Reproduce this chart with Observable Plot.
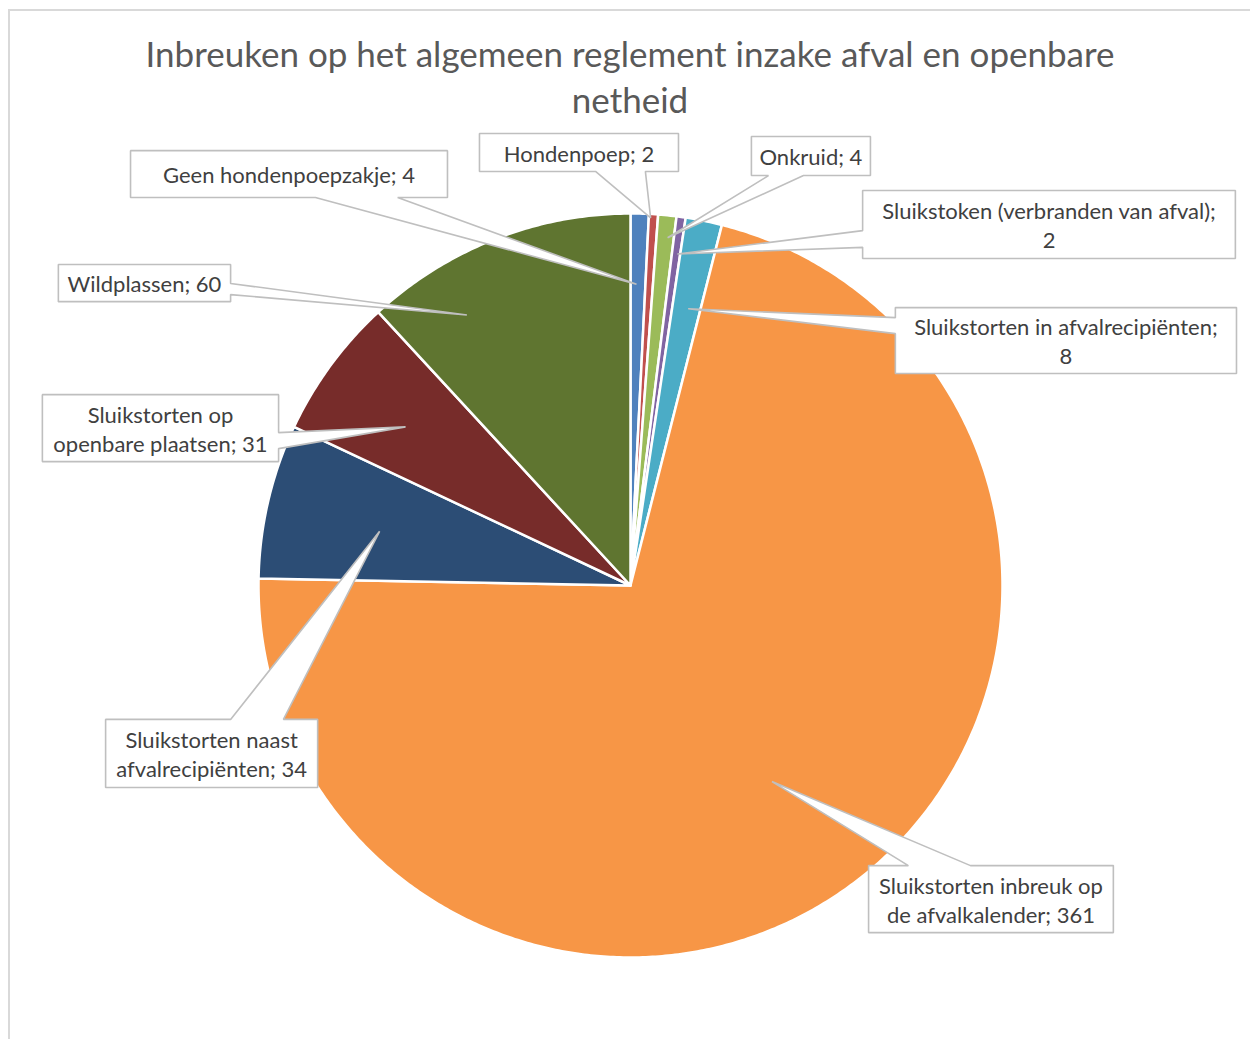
<!DOCTYPE html>
<html><head><meta charset="utf-8">
<script src="https://cdn.jsdelivr.net/npm/d3@7"></script>
<script src="https://cdn.jsdelivr.net/npm/@observablehq/plot@0.6"></script>
<style>
body{margin:0;background:#fff;}
#wrap{position:relative;width:1250px;height:1039px;overflow:hidden;font-family:Lato,"Open Sans",sans-serif;background:#fff;}
#frame{position:absolute;left:8px;top:9px;width:1300px;height:1100px;border-left:2px solid #d9d9d9;border-top:2px solid #d9d9d9;}
#title{position:absolute;left:0;width:1260px;top:30px;text-align:center;font-size:35px;line-height:46px;color:#595959;font-weight:400;}
#plot{position:absolute;left:0;top:125px;}
</style></head>
<body>
<div id="wrap"><div id="frame"></div>
<div id="title">Inbreuken op het algemeen reglement inzake afval en openbare<br>netheid</div>
<div id="plot"></div></div>
<script>
// ---- data ----
const categories = [
  "Geen hondenpoepzakje",
  "Hondenpoep",
  "Onkruid",
  "Sluikstoken (verbranden van afval)",
  "Sluikstorten in afvalrecipiënten",
  "Sluikstorten inbreuk op de afvalkalender",
  "Sluikstorten naast afvalrecipiënten",
  "Sluikstorten op openbare plaatsen",
  "Wildplassen"
];
const values = [4, 2, 4, 2, 8, 361, 34, 31, 60];

// ---- styles ----
const colors = ["#4F81BD","#C0504D","#9BBB59","#8064A2","#4BACC6","#F79646","#2C4D75","#772C2A","#5F7530"];

// ---- callout layout (units = pie radius, origin = pie centre, y up) ----
const calloutBoxes = [
  {left:-1.344, right:-0.492, top:1.169, bottom:1.043},
  {left:-0.406, right:0.129, top:1.215, bottom:1.113},
  {left:0.325, right:0.645, top:1.207, bottom:1.102},
  {left:0.624, right:1.626, top:1.062, bottom:0.879},
  {left:0.712, right:1.629, top:0.747, bottom:0.570},
  {left:0.640, right:1.298, top:-0.753, bottom:-0.933},
  {left:-1.411, right:-0.841, top:-0.360, bottom:-0.543},
  {left:-1.581, right:-0.946, top:0.513, bottom:0.333},
  {left:-1.538, right:-1.075, top:0.863, bottom:0.763}
];
const calloutBases = [
  {side:"bottom", a:-0.847, b:-0.626},
  {side:"bottom", a:-0.094, b:0.040},
  {side:"bottom", a:0.371, b:0.465},
  {side:"left", a:0.954, b:0.909},
  {side:"left", a:0.720, b:0.677},
  {side:"top", a:0.747, b:0.914},
  {side:"top", a:-1.075, b:-0.933},
  {side:"right", a:0.411, b:0.368},
  {side:"right", a:0.812, b:0.782}
];
const calloutTips = [
  {frac:0.40, r:0.81},
  {frac:0.20, r:0.99},
  {frac:0.64, r:0.94},
  {frac:0.66, r:0.90},
  {frac:0.57, r:0.76},
  {frac:0.506, r:0.65},
  {frac:0.46, r:0.69},
  {frac:0.45, r:0.74},
  {frac:0.27, r:0.85}
];
const labelBreakAfterWord = [null, null, null, 4, 3, 3, 2, 2, null];

// ---- geometry ----
const CX = 630, CY = 460, R = 372, W = 1250, H = 914;
const data = categories.map((c, i) => ({cat: c, value: values[i]}));
const arcs = d3.pie().sort(null).value(d => d.value)(data);

const slicePts = [];
arcs.forEach(p => {
  const n = Math.max(2, Math.ceil((p.endAngle - p.startAngle) / (Math.PI / 360)));
  slicePts.push({cat: p.data.cat, x: 0, y: 0});
  for (let i = 0; i <= n; i++) {
    const a = p.startAngle + (p.endAngle - p.startAngle) * i / n;
    slicePts.push({cat: p.data.cat, x: Math.sin(a), y: Math.cos(a)});
  }
});

const calloutPts = [];
const labelRows = [];
arcs.forEach((p, i) => {
  const bx = calloutBoxes[i], base = calloutBases[i], t = calloutTips[i];
  const ta = p.startAngle + (p.endAngle - p.startAngle) * t.frac;
  const tip = [t.r * Math.sin(ta), t.r * Math.cos(ta)];
  const TL = [bx.left, bx.top], TR = [bx.right, bx.top], BR = [bx.right, bx.bottom], BL = [bx.left, bx.bottom];
  let pts;
  if (base.side === "top") pts = [TL, [base.a, bx.top], tip, [base.b, bx.top], TR, BR, BL];
  else if (base.side === "right") pts = [TL, TR, [bx.right, base.a], tip, [bx.right, base.b], BR, BL];
  else if (base.side === "bottom") pts = [TL, TR, BR, [base.b, bx.bottom], tip, [base.a, bx.bottom], BL];
  else pts = [TL, TR, BR, BL, [bx.left, base.b], tip, [bx.left, base.a]];
  pts.forEach(q => calloutPts.push({id: i, x: q[0], y: q[1]}));
  const words = `${p.data.cat}; ${p.data.value}`.split(" ");
  const k = labelBreakAfterWord[i];
  const text = k ? words.slice(0, k).join(" ") + "\n" + words.slice(k).join(" ") : words.join(" ");
  labelRows.push({x: (bx.left + bx.right) / 2, y: (bx.top + bx.bottom) / 2, text});
});

const chart = Plot.plot({
  width: W, height: H, margin: 0,
  x: {domain: [-CX / R, (W - CX) / R], axis: null},
  y: {domain: [-(H - CY) / R, CY / R], axis: null},
  color: {domain: categories, range: colors},
  style: {background: "transparent", fontFamily: "Lato, 'Open Sans', sans-serif"},
  marks: [
    Plot.line(slicePts, {x: "x", y: "y", z: "cat", fill: "cat", stroke: "white", strokeWidth: 2.5, strokeLinejoin: "round", curve: "linear-closed"}),
    Plot.line(calloutPts, {x: "x", y: "y", z: "id", fill: "white", stroke: "#BFBFBF", strokeWidth: 1.6, strokeLinejoin: "miter", curve: "linear-closed"}),
    Plot.text(labelRows, {x: "x", y: "y", text: "text", fontSize: 22, fill: "#404040", lineHeight: 1.3, fontFamily: "Lato, 'Open Sans', sans-serif"})
  ]
});
document.getElementById("plot").appendChild(chart);
</script>
</body></html>
